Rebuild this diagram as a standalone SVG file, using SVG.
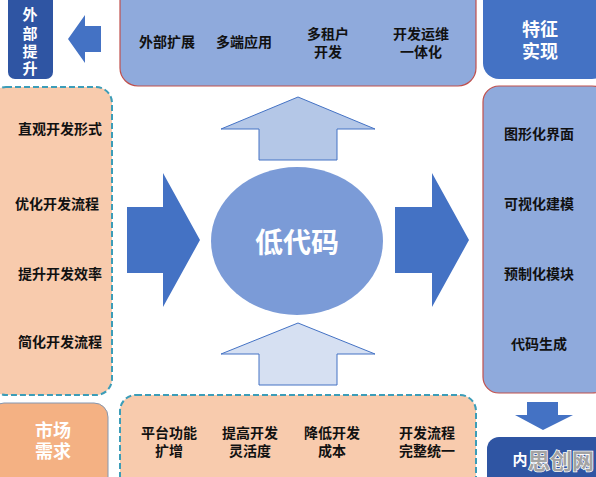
<svg xmlns="http://www.w3.org/2000/svg" width="596" height="477" viewBox="0 0 596 477">
<style>
text{font-family:"Noto Sans CJK SC","Noto Sans",sans-serif;font-weight:bold;text-anchor:middle;dominant-baseline:central}
.dk{fill:#111;font-size:14px}
.wt{fill:#fff}
.blue{fill:#8FAADC;stroke:#C0504D;stroke-width:1.2}
.peach{fill:#F8CBAD;stroke:#3C9DB8;stroke-width:2;stroke-dasharray:6 3}
.arr{fill:#4472C4}
.uparr{stroke:#4472C4;stroke-width:1}
</style>
<rect width="596" height="477" fill="#fff"/>
<g id="connectors">
<polygon class="arr" points="68,39 85,15 85,26 101,26 101,52 85,52 85,63"/>
<polygon class="arr" points="127,207 163,207 163,173 200,240 163,307 163,273 127,273"/>
<polygon class="arr" points="395,207 432,207 432,173 469,240 432,307 432,273 395,273"/>
<polygon class="uparr" fill="#B4C7E7" points="298,97 375,129 337,129 337,160 259,160 259,129 221,129"/>
<polygon class="uparr" fill="#D6E0F2" points="298,323 375,354 337,354 337,385 259,385 259,354 221,354"/>
<polygon class="arr" points="527,402 558,402 558,415 573,415 543,430 515,415 527,415"/>
</g>
<g id="node-outer-lift">
<rect x="8" y="-10" width="45" height="89" rx="7" fill="#2F55A3"/>
<text class="wt" font-size="15"><tspan x="30" y="13">外</tspan><tspan x="30" y="32">部</tspan><tspan x="30" y="50">提</tspan><tspan x="30" y="67">升</tspan></text>
</g>
<g id="node-top">
<rect class="blue" x="120" y="-20" width="356" height="106" rx="18"/>
<text class="dk" x="167" y="41">外部扩展</text>
<text class="dk" x="244" y="41">多端应用</text>
<text class="dk"><tspan x="328" y="33">多租户</tspan><tspan x="328" y="51">开发</tspan></text>
<text class="dk"><tspan x="421" y="33">开发运维</tspan><tspan x="421" y="51">一体化</tspan></text>
</g>
<g id="node-feature">
<rect x="483" y="-20" width="125" height="99" rx="16" fill="#4472C4"/>
<text class="wt" font-size="18"><tspan x="540" y="28">特征</tspan><tspan x="540" y="50">实现</tspan></text>
</g>
<g id="node-left">
<rect class="peach" x="-10" y="87" width="122" height="308" rx="16"/>
<text class="dk" x="60" y="128">直观开发形式</text>
<text class="dk" x="57" y="203">优化开发流程</text>
<text class="dk" x="60" y="273">提升开发效率</text>
<text class="dk" x="60" y="341">简化开发流程</text>
</g>
<g id="node-center">
<ellipse cx="297" cy="241" rx="86" ry="74" fill="#7B9BD7"/>
<text class="wt" x="297" y="241" font-size="28">低代码</text>
</g>
<g id="node-right">
<rect class="blue" x="483" y="86" width="125" height="307" rx="16"/>
<text class="dk" x="539" y="133">图形化界面</text>
<text class="dk" x="539" y="203">可视化建模</text>
<text class="dk" x="539" y="273">预制化模块</text>
<text class="dk" x="539" y="343">代码生成</text>
</g>
<g id="node-market">
<rect x="-10" y="403" width="118" height="90" rx="14" fill="#F4B183" stroke="#8497B0" stroke-width="1"/>
<text class="wt" font-size="18"><tspan x="53" y="429">市场</tspan><tspan x="53" y="450">需求</tspan></text>
</g>
<g id="node-bottom">
<rect class="peach" x="120" y="395" width="356" height="100" rx="16"/>
<text class="dk"><tspan x="169" y="432">平台功能</tspan><tspan x="169" y="450">扩增</tspan></text>
<text class="dk"><tspan x="250" y="432">提高开发</tspan><tspan x="250" y="450">灵活度</tspan></text>
<text class="dk"><tspan x="332" y="432">降低开发</tspan><tspan x="332" y="450">成本</tspan></text>
<text class="dk"><tspan x="427" y="432">开发流程</tspan><tspan x="427" y="450">完整统一</tspan></text>
</g>
<g id="node-inner">
<rect x="487" y="437" width="121" height="60" rx="12" fill="#2F55A3"/>
<text class="wt" x="520" y="458" font-size="15">内</text>
<text x="561" y="459" font-size="22" fill="#A3A3A3" stroke="#fff" stroke-width="1.5" paint-order="stroke">思创网</text>
</g>
</svg>
